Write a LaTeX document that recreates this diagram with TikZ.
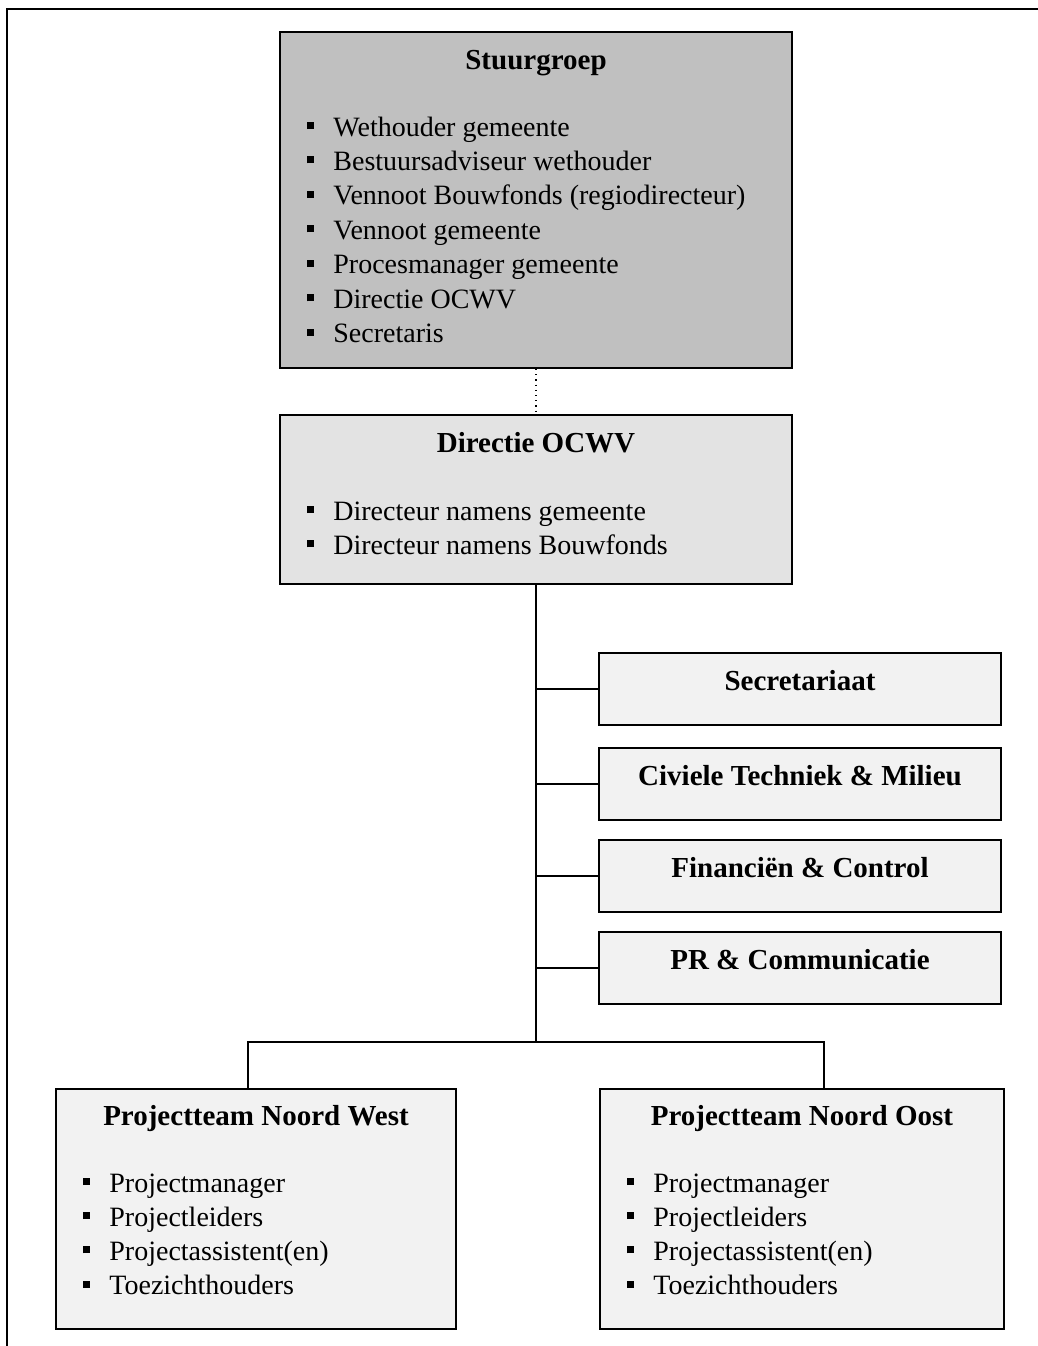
\documentclass[tikz,border=0pt]{standalone}
\usepackage{fontspec}
\setmainfont{Liberation Serif}
\usepackage{tikz}

\definecolor{stuurgrijs}{HTML}{C0C0C0}
\definecolor{directiegrijs}{HTML}{E3E3E3}
\definecolor{teamgrijs}{HTML}{F2F2F2}

\newcommand{\blokje}{\rule[3.5pt]{3.5pt}{3.5pt}\hspace{9.5pt}}

\begin{document}
\begin{tikzpicture}[x=0.5pt,y=-0.5pt]
	\tikzstyle{box}=[rectangle,draw=black,line width=1pt,inner sep=0pt]
	\tikzstyle{title}=[anchor=base,inner sep=0pt,font=\fontsize{14.5}{16}\selectfont\bfseries]
	\tikzstyle{item}=[anchor=base west,inner sep=0pt,font=\fontsize{14}{16}\selectfont]
	\tikzstyle{line}=[line width=0.8pt]
	\useasboundingbox (0,0) rectangle (1038,1346);
	\draw[line width=1.1pt] (7,1346) -- (7,9) -- (1038,9);
	% boxes
	\node[box,fill=stuurgrijs,minimum width=256pt,minimum height=168pt](stuur) at (536,200) {};
	\node[box,fill=directiegrijs,minimum width=256pt,minimum height=84.5pt](directie) at (536,499.5) {};
	\node[box,fill=teamgrijs,minimum width=201pt,minimum height=36pt](secr) at (800,689) {};
	\node[box,fill=teamgrijs,minimum width=201pt,minimum height=36pt](civiel) at (800,784) {};
	\node[box,fill=teamgrijs,minimum width=201pt,minimum height=36pt](financ) at (800,876) {};
	\node[box,fill=teamgrijs,minimum width=201pt,minimum height=36pt](pr) at (800,968) {};
	\node[box,fill=teamgrijs,minimum width=200pt,minimum height=120pt](nw) at (256,1209) {};
	\node[box,fill=teamgrijs,minimum width=202pt,minimum height=120pt](no) at (802,1209) {};
	% titles
	\node[title](stuur-t) at (536,69) {Stuurgroep};
	\node[title](directie-t) at (536,452) {Directie OCWV};
	\node[title](secr-t) at (800,690) {Secretariaat};
	\node[title](civiel-t) at (800,785) {Civiele Techniek \& Milieu};
	\node[title](financ-t) at (800,877) {Financiën \& Control};
	\node[title](pr-t) at (800,969) {PR \& Communicatie};
	\node[title](nw-t) at (256,1125) {Projectteam Noord West};
	\node[title](no-t) at (802,1125) {Projectteam Noord Oost};
	% lists
	\foreach \t [count=\i] in {{Wethouder gemeente},{Bestuursadviseur wethouder},{Vennoot Bouwfonds (regiodirecteur)},{Vennoot gemeente},{Procesmanager gemeente},{Directie OCWV},{Secretaris}}
		\node[item](stuur-\i) at (307,{136+34.45*(\i-1)}) {\blokje\t};
	\foreach \t [count=\i] in {{Directeur namens gemeente},{Directeur namens Bouwfonds}}
		\node[item](directie-\i) at (307,{520+34.45*(\i-1)}) {\blokje\t};
	\foreach \t [count=\i] in {Projectmanager,Projectleiders,Projectassistent(en),Toezichthouders}{
		\node[item](nw-\i) at (83,{1192+34.2*(\i-1)}) {\blokje\t};
		\node[item](no-\i) at (627,{1192+34.2*(\i-1)}) {\blokje\t};
	}
	% connectors
	\coordinate (split) at (536,1042);
	\coordinate (nwdrop) at (248,1089);
	\coordinate (nodrop) at (824,1089);
	\draw[dotted,line width=0.6pt](stuur) -- (directie);
	\draw[line](directie) -- (split);
	\draw[line](secr.west -| split) -- (secr.west);
	\draw[line](civiel.west -| split) -- (civiel.west);
	\draw[line](financ.west -| split) -- (financ.west);
	\draw[line](pr.west -| split) -- (pr.west);
	\draw[line](nwdrop) |- (split) -| (nodrop);
\end{tikzpicture}
\end{document}
